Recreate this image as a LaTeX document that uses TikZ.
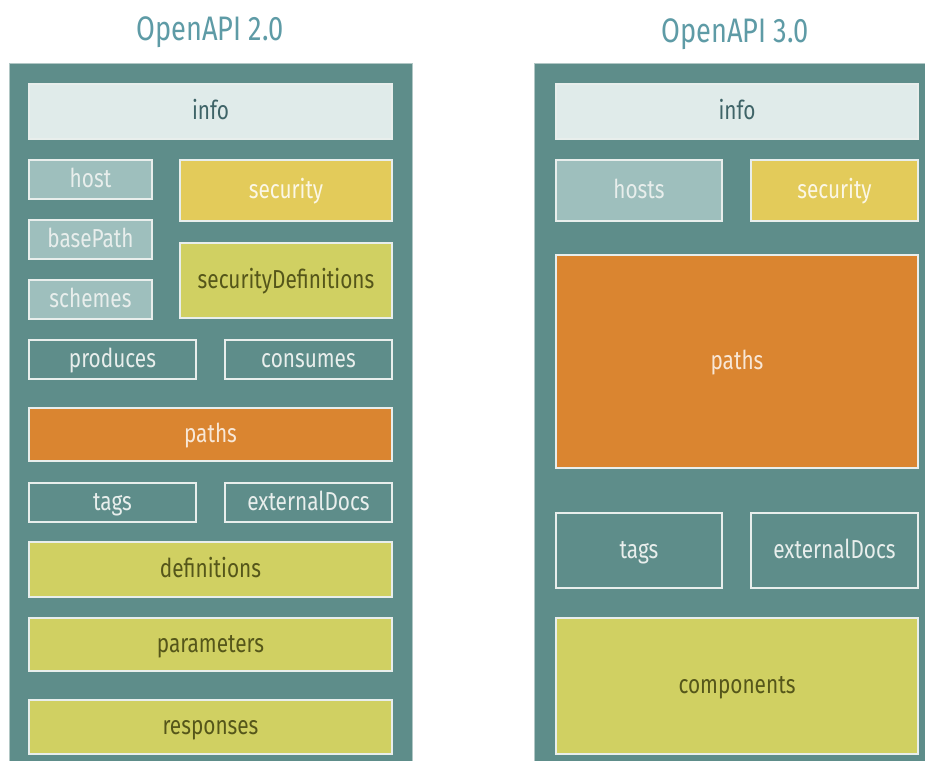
\documentclass[tikz,border=0pt]{standalone}
\usepackage{fontspec}
\setmainfont{Fira Sans}[FakeStretch=0.8]
\usepackage{tikz}
\usetikzlibrary{positioning}

\definecolor{panel}{HTML}{5E8D8A}
\definecolor{rim}{HTML}{E8EEEC}
\definecolor{infofill}{HTML}{E0EBEA}
\definecolor{infotext}{HTML}{3F6468}
\definecolor{hostfill}{HTML}{9EBFBD}
\definecolor{secfill}{HTML}{E3CB5A}
\definecolor{limefill}{HTML}{D0D062}
\definecolor{limetext}{HTML}{55561A}
\definecolor{pathfill}{HTML}{DA8530}
\definecolor{headtext}{HTML}{5E9BA6}

\begin{document}
\begin{tikzpicture}[x=1pt, y=-1pt,
    every node/.style={inner sep=0pt, outer sep=0pt, font=\fontsize{26}{30}\selectfont},
    box/.style={draw=rim, line width=1.5pt, rectangle, text height=18pt, text depth=3pt},
    infobox/.style={box, fill=infofill, text=infotext},
    hostbox/.style={box, fill=hostfill, text=rim},
    secbox/.style={box, fill=secfill, text=white!85!secfill},
    defbox/.style={box, fill=limefill, text=limetext},
    linkbox/.style={box, fill=panel, text=rim},
    pathbox/.style={box, fill=pathfill, text=white!80!pathfill},
    heading/.style={anchor=base, text=headtext, font=\fontsize{34}{40}\selectfont}]
    \useasboundingbox[fill=white] (0,0) rectangle (925,760);

    % left
    \draw[fill=panel, draw=rim!60!panel, line width=1pt] (9,63) rectangle (412,780);
    \node[heading] (h2) at (210,41) {OpenAPI 2.0};
    \node[infobox, minimum width=363pt, minimum height=55pt] (info2) at (210.5,111.5) {info};
    \node[hostbox, minimum width=123pt, minimum height=39pt] (host) at (90.5,179.5) {host};
    \node[hostbox, minimum width=123pt, minimum height=39pt, below=21pt of host] (basepath) {basePath};
    \node[hostbox, minimum width=123pt, minimum height=39pt, below=21pt of basepath] (schemes) {schemes};
    \node[secbox, minimum width=212pt, minimum height=61pt] (sec2) at (286,190.5) {security};
    \node[defbox, minimum width=212pt, minimum height=75pt] (secdefs) at (286,280.5) {securityDefinitions};
    \node[linkbox, minimum width=167pt, minimum height=39pt] (produces) at (112.5,359.5) {produces};
    \node[linkbox, minimum width=167pt, minimum height=39pt] (consumes) at (308.5,359.5) {consumes};
    \node[pathbox, minimum width=363pt, minimum height=53pt] (paths2) at (210.5,434.5) {paths};
    \node[linkbox, minimum width=167pt, minimum height=39pt] (tags2) at (112.5,502.5) {tags};
    \node[linkbox, minimum width=167pt, minimum height=39pt] (docs2) at (308.5,502.5) {externalDocs};
    \node[defbox, minimum width=363pt, minimum height=55pt] (definitions) at (210.5,569.5) {definitions};
    \node[defbox, minimum width=363pt, minimum height=53pt] (parameters) at (210.5,644.5) {parameters};
    \node[defbox, minimum width=363pt, minimum height=54pt] (responses) at (210.5,727) {responses};

    % right
    \draw[fill=panel, draw=rim!60!panel, line width=1pt] (534,63) rectangle (940,780);
    \node[heading] (h3) at (735,42) {OpenAPI 3.0};
    \node[infobox, minimum width=362pt, minimum height=55pt] (info3) at (737,111.5) {info};
    \node[hostbox, minimum width=166pt, minimum height=61pt] (hosts) at (639,190.5) {hosts};
    \node[secbox, minimum width=167pt, minimum height=61pt] (sec3) at (834.5,190.5) {security};
    \node[pathbox, minimum width=362pt, minimum height=213pt] (paths3) at (737,361.5) {paths};
    \node[linkbox, minimum width=166pt, minimum height=75pt] (tags3) at (639,550.5) {tags};
    \node[linkbox, minimum width=167pt, minimum height=75pt] (docs3) at (834.5,550.5) {externalDocs};
    \node[defbox, minimum width=362pt, minimum height=136pt] (components) at (737,686) {components};
\end{tikzpicture}
\end{document}
